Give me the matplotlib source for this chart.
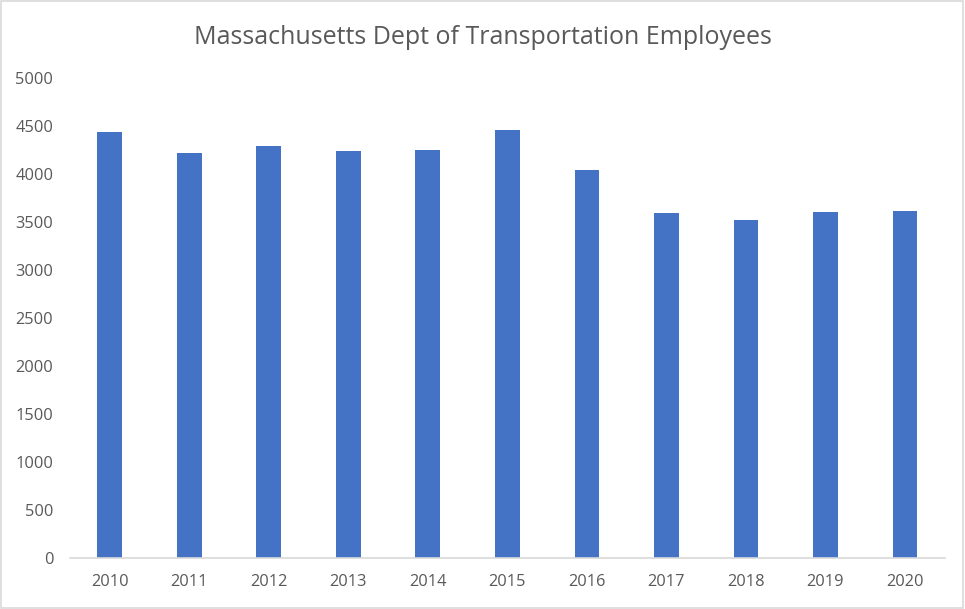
import numpy as np
import matplotlib.pyplot as plt

# -------------------------------
# Data
years = ['2010', '2011', '2012', '2013', '2014', '2015',
         '2016', '2017', '2018', '2019', '2020']
employees = [4440, 4221, 4294, 4242, 4252, 4461, 4044, 3597, 3524, 3607, 3618]
y_ticks = [0, 500, 1000, 1500, 2000, 2500, 3000, 3500, 4000, 4500, 5000]

# -------------------------------
plt.rcParams['font.family'] = ['Open Sans', 'DejaVu Sans']
text_color = '#595959'

fig = plt.figure(figsize=(9.65, 6.09), dpi=100)
ax = fig.add_axes([0.0725, 0.083, 0.9065, 0.7884])

x = np.arange(len(years))
ax.bar(x, employees, width=0.31, color='#4472C4')

ax.set_xlim(-0.5, len(years) - 0.5)
ax.set_ylim(0, 5000)
ax.set_xticks(x)
ax.set_xticklabels(years)
ax.set_yticks(y_ticks)

ax.tick_params(axis='both', length=0, labelsize=11.8, colors=text_color)
ax.tick_params(axis='x', pad=11)
ax.tick_params(axis='y', pad=12)

for side in ['top', 'right', 'left']:
    ax.spines[side].set_visible(False)
ax.spines['bottom'].set_color('#D9D9D9')
ax.spines['bottom'].set_linewidth(1.2)

fig.text(0.5, 0.938, 'Massachusetts Dept of Transportation Employees',
         ha='center', va='center', fontsize=18, color=text_color)

# light border round the whole chart
fig.patches.append(plt.Rectangle((0.001, 0.001), 0.997, 0.997, transform=fig.transFigure,
                                 fill=False, edgecolor='#D9D9D9', linewidth=1.2))

fig.savefig('out.png', dpi=100)
